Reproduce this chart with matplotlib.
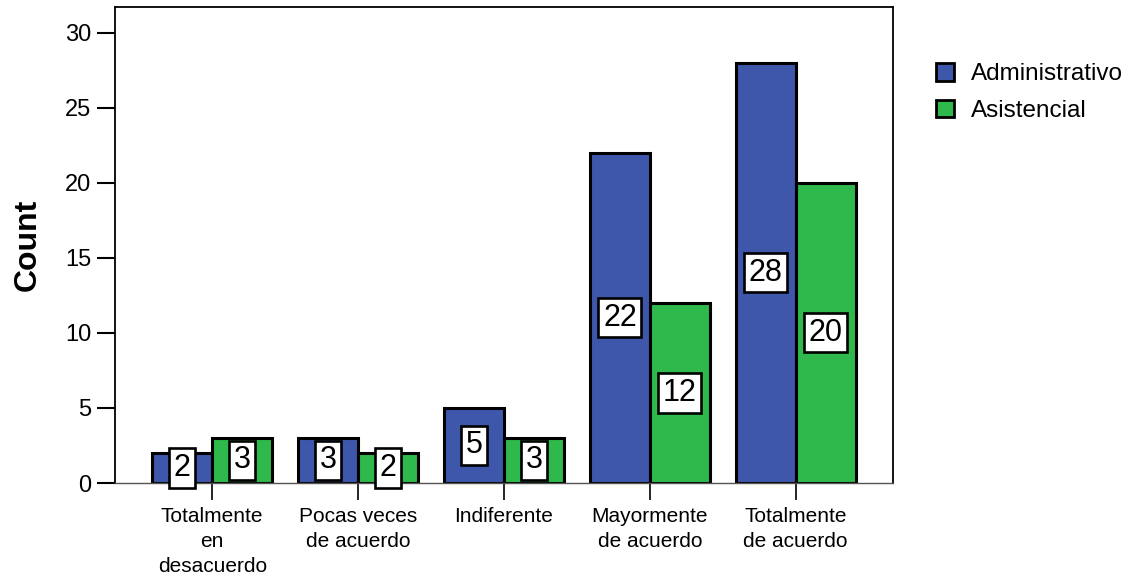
import numpy as np
import matplotlib.pyplot as plt

plt.rcParams['font.family'] = ['Liberation Sans', 'DejaVu Sans']

# Datos
categorias = ["Totalmente\nen\ndesacuerdo", "Pocas veces\nde acuerdo", "Indiferente",
              "Mayormente\nde acuerdo", "Totalmente\nde acuerdo"]
administrativo = [2, 3, 5, 22, 28]
asistencial = [3, 2, 3, 12, 20]

azul = '#3e57aa'
verde = '#2fb84b'

fig = plt.figure(figsize=(11.37, 5.74), dpi=100)
ax = fig.add_axes([0.1011, 0.1585, 0.6843, 0.8293])

x = np.arange(len(categorias))
w = 0.41
b1 = ax.bar(x - w / 2, administrativo, w, color=azul, edgecolor='black', linewidth=2.2,
            label='Administrativo', zorder=2)
b2 = ax.bar(x + w / 2, asistencial, w, color=verde, edgecolor='black', linewidth=2.2,
            label='Asistencial', zorder=2)

# Etiquetas en cajas blancas
for bars, vals in ((b1, administrativo), (b2, asistencial)):
    for r, v in zip(bars, vals):
        ax.text(r.get_x() + r.get_width() / 2, v / 2, str(v), ha='center', va='center',
                fontsize=22, zorder=3,
                bbox=dict(boxstyle='square,pad=0.15', fc='white', ec='black', lw=1.9))

ax.set_xlim(-0.667, 4.667)
ax.set_ylim(0, 31.7)
ax.set_yticks([0, 5, 10, 15, 20, 25, 30])
ax.set_xticks(x)
ax.set_xticklabels(categorias, fontsize=15, linespacing=1.4)
ax.tick_params(axis='y', labelsize=17, length=13, width=1.5, direction='out', pad=4)
ax.tick_params(axis='x', length=12, width=1.2, direction='out', pad=5)
ax.set_ylabel('Count', fontsize=23, fontweight='bold', labelpad=16)

for s in ('left', 'right', 'top'):
    ax.spines[s].set_linewidth(1.3)
ax.spines['bottom'].set_linewidth(1)
ax.spines['bottom'].set_color('#555555')

leg = ax.legend(loc='upper left', bbox_to_anchor=(1.027, 0.928), frameon=False, fontsize=17.5,
                handlelength=0.74, handleheight=0.74, handletextpad=0.72, labelspacing=0.58)
for h in leg.legend_handles:
    h.set_linewidth(2)

fig.savefig('out.png', dpi=100)
